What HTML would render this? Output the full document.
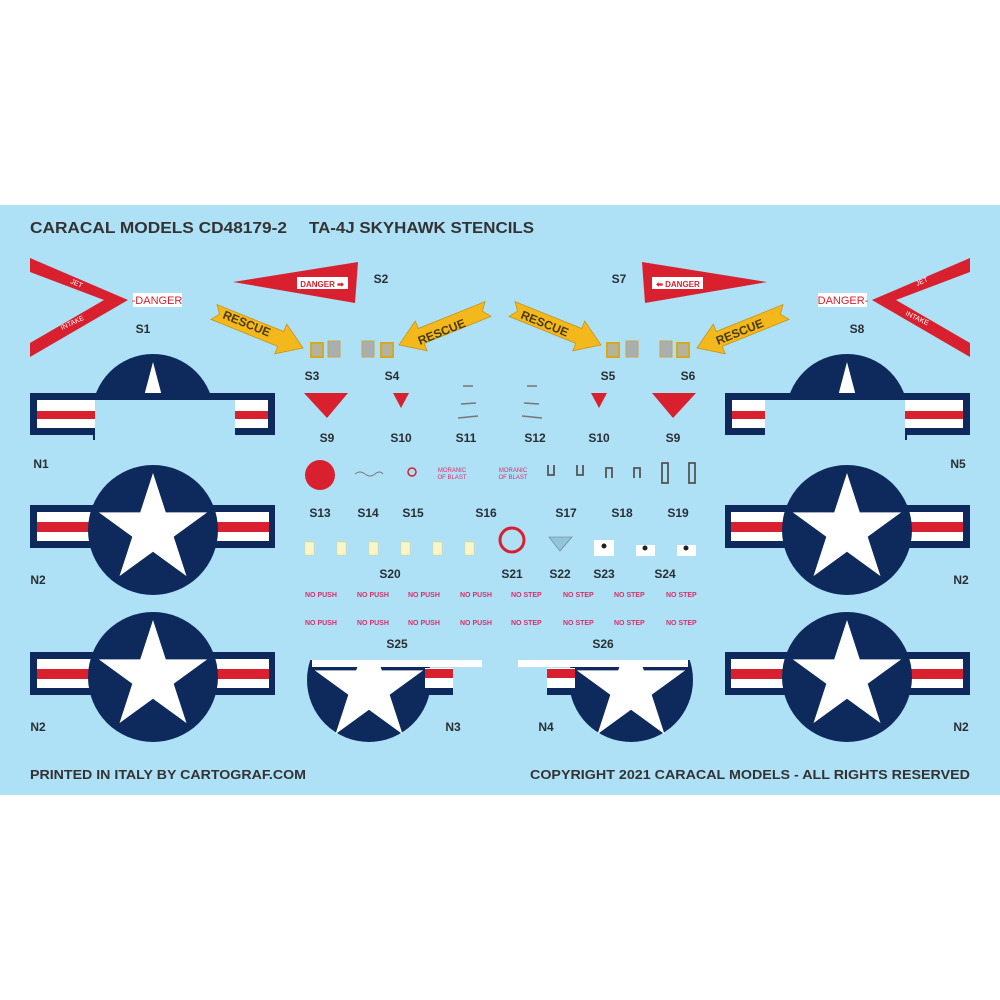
<!DOCTYPE html>
<html><head><meta charset="utf-8"><style>
html,body{margin:0;padding:0;background:#fff}
svg{display:block}
text{font-family:"Liberation Sans",sans-serif}
.lbl{font-weight:bold;font-size:12px;fill:#2a2f33;text-anchor:middle}
.np{font-weight:bold;font-size:7px;fill:#d8306a}
</style></head><body>
<svg width="1000" height="1000" viewBox="0 0 1000 1000" xmlns="http://www.w3.org/2000/svg">
<defs>
<polygon id="star" points="0,-1 0.2245,-0.309 0.951,-0.309 0.363,0.118 0.588,0.809 0,0.382 -0.588,0.809 -0.363,0.118 -0.951,-0.309 -0.2245,-0.309"/>
<polygon id="arrow" points="0,-8 72,-8 72,-16 96,0 72,16 72,8 0,8 6,0" fill="#f2b81c" stroke="#c9941a" stroke-width="0.8"/>
<g id="full">
 <rect x="-123" y="-25" width="245" height="43" fill="#0e2a5c"/>
 <rect x="-116" y="-18" width="232" height="29" fill="#fff"/>
 <rect x="-116" y="-8" width="232" height="10" fill="#d9202e"/>
 <circle r="65" fill="#0e2a5c"/>
 <use href="#star" transform="scale(57)" fill="#fff"/>
</g>
<clipPath id="c3"><rect x="300" y="660" width="200" height="100"/></clipPath>
<clipPath id="c1"><rect x="0" y="340" width="300" height="60"/></clipPath>
<g id="left">
 <polygon points="30,258 128,300 30,357 30,343 104,300 30,272" fill="#d9202e"/>
 <polygon points="233,282 358,262 355,303" fill="#d9202e"/>
 <rect x="297" y="277" width="51" height="12" fill="#fff"/>
 <use href="#arrow" transform="translate(214,312) rotate(22)"/>
 <use href="#arrow" transform="translate(488,309) scale(-1,1) rotate(22)"/>
 <rect x="311" y="343" width="12" height="14" fill="#b7b29a" stroke="#d7a91f" stroke-width="2"/>
 <rect x="328" y="341" width="12" height="16" fill="#a9aeb0" stroke="#c9a54a" stroke-width="1"/>
 <rect x="362" y="341" width="12" height="16" fill="#a9aeb0" stroke="#c9a54a" stroke-width="1"/>
 <rect x="381" y="343" width="12" height="14" fill="#b7b29a" stroke="#d7a91f" stroke-width="2"/>
 <polygon points="304,393 348,393 327,418" fill="#d9202e"/>
 <polygon points="393,393 409,393 401,408" fill="#d9202e"/>
 <g stroke="#777" stroke-width="1.5"><line x1="463" y1="386" x2="473" y2="386"/><line x1="461" y1="404" x2="476" y2="403"/><line x1="458" y1="418" x2="478" y2="416"/></g>
 <g clip-path="url(#c1)"><circle cx="153" cy="415" r="61" fill="#0e2a5c"/></g>
 <polygon points="153,362 143,400 163,400" fill="#fff"/>
 <path d="M30,393 H275 V435 H235 V400 H95 V440 H93 V435 H30 Z" fill="#0e2a5c"/>
 <rect x="37" y="400" width="58" height="28" fill="#fff"/><rect x="37" y="411" width="58" height="8" fill="#d9202e"/>
 <rect x="235" y="400" width="33" height="28" fill="#fff"/><rect x="235" y="411" width="33" height="8" fill="#d9202e"/>
 <use href="#full" transform="translate(153,530)"/>
 <use href="#full" transform="translate(153,677)"/>
 <g clip-path="url(#c3)">
  <circle cx="369" cy="680" r="62" fill="#0e2a5c"/>
  <use href="#star" transform="translate(369,688) scale(57)" fill="#fff"/>
 </g>
 <rect x="425" y="668" width="28" height="27" fill="#0e2a5c"/>
 <rect x="425" y="668" width="28" height="20" fill="#fff"/>
 <rect x="425" y="669" width="28" height="9" fill="#d9202e"/>
 <rect x="312" y="660" width="170" height="7" fill="#fff"/>
</g>
</defs>
<rect x="0" y="205" width="1000" height="590" fill="#aee0f6"/>
<use href="#left"/>
<use href="#left" transform="translate(1000,0) scale(-1,1)"/>

<text x="30" y="233" font-size="16" font-weight="bold" fill="#333" textLength="257" lengthAdjust="spacingAndGlyphs">CARACAL MODELS CD48179-2</text>
<text x="309" y="233" font-size="16" font-weight="bold" fill="#333" textLength="225" lengthAdjust="spacingAndGlyphs">TA-4J SKYHAWK STENCILS</text>
<text x="30" y="779" font-size="13" font-weight="bold" fill="#333" textLength="276" lengthAdjust="spacingAndGlyphs">PRINTED IN ITALY BY CARTOGRAF.COM</text>
<text x="530" y="779" font-size="13" font-weight="bold" fill="#333" textLength="440" lengthAdjust="spacingAndGlyphs">COPYRIGHT 2021 CARACAL MODELS - ALL RIGHTS RESERVED</text>

<rect x="133" y="293" width="49" height="14" fill="#fff"/>
<text x="157" y="304" font-size="11" fill="#d9202e" text-anchor="middle">-DANGER</text>
<rect x="818" y="293" width="49" height="14" fill="#fff"/>
<text x="843" y="304" font-size="11" fill="#d9202e" text-anchor="middle">DANGER-</text>
<text x="322" y="287" font-size="8" font-weight="bold" fill="#d9202e" text-anchor="middle">DANGER ➡</text>
<text x="678" y="287" font-size="8" font-weight="bold" fill="#d9202e" text-anchor="middle">⬅ DANGER</text>
<text x="70" y="283" font-size="7" fill="#fff" transform="rotate(23 70 283)">JET</text>
<text x="62" y="330" font-size="7" fill="#fff" transform="rotate(-25 62 330)">INTAKE</text>
<text x="917" y="286" font-size="7" fill="#fff" transform="rotate(-23 917 286)">JET</text>
<text x="905" y="315" font-size="7" fill="#fff" transform="rotate(25 905 315)">INTAKE</text>

<text x="222" y="318" font-size="12" font-weight="bold" fill="#4a3a10" transform="rotate(22 222 318)">RESCUE</text>
<text x="420" y="345" font-size="12" font-weight="bold" fill="#4a3a10" transform="rotate(-22 420 345)">RESCUE</text>
<text x="520" y="318" font-size="12" font-weight="bold" fill="#4a3a10" transform="rotate(22 520 318)">RESCUE</text>
<text x="718" y="345" font-size="12" font-weight="bold" fill="#4a3a10" transform="rotate(-22 718 345)">RESCUE</text>

<circle cx="320" cy="475" r="15" fill="#d9202e"/>
<path d="M355,474 q5,-4 10,0 t10,0 t8,0" stroke="#777" fill="none" stroke-width="1"/>
<circle cx="412" cy="472" r="4" fill="none" stroke="#d9202e" stroke-width="1.5"/>
<text x="452" y="472" font-size="6" fill="#d8306a" text-anchor="middle">MORANIC</text>
<text x="452" y="479" font-size="6" fill="#d8306a" text-anchor="middle">OF BLAST</text>
<text x="513" y="472" font-size="6" fill="#d8306a" text-anchor="middle">MORANIC</text>
<text x="513" y="479" font-size="6" fill="#d8306a" text-anchor="middle">OF BLAST</text>
<g fill="none" stroke="#555" stroke-width="1.8">
<path d="M548,465 v10 h6 v-10"/><path d="M577,465 v10 h6 v-10"/>
<path d="M606,478 v-10 h6 v10"/><path d="M634,478 v-10 h6 v10"/>
<rect x="662" y="463" width="6" height="20"/><rect x="689" y="463" width="6" height="20"/>
</g>

<g fill="#fdf4c8" stroke="#e8d680" stroke-width="0.5">
<rect x="305" y="542" width="9" height="13"/><rect x="337" y="542" width="9" height="13"/><rect x="369" y="542" width="9" height="13"/>
<rect x="401" y="542" width="9" height="13"/><rect x="433" y="542" width="9" height="13"/><rect x="465" y="542" width="9" height="13"/>
</g>
<circle cx="512" cy="540" r="12" fill="none" stroke="#d9202e" stroke-width="3"/>
<polygon points="549,537 572,537 560,551" fill="#8fc6dc" stroke="#777" stroke-width="0.6"/>
<rect x="594" y="540" width="20" height="16" fill="#fff"/><circle cx="604" cy="546" r="2.5" fill="#222"/>
<rect x="636" y="545" width="19" height="11" fill="#fff"/><circle cx="645" cy="548" r="2.5" fill="#222"/>
<rect x="677" y="545" width="19" height="11" fill="#fff"/><circle cx="686" cy="548" r="2.5" fill="#222"/>

<g class="np">
<text x="305" y="597">NO PUSH</text><text x="357" y="597">NO PUSH</text><text x="408" y="597">NO PUSH</text><text x="460" y="597">NO PUSH</text>
<text x="511" y="597">NO STEP</text><text x="563" y="597">NO STEP</text><text x="614" y="597">NO STEP</text><text x="666" y="597">NO STEP</text>
<text x="305" y="625">NO PUSH</text><text x="357" y="625">NO PUSH</text><text x="408" y="625">NO PUSH</text><text x="460" y="625">NO PUSH</text>
<text x="511" y="625">NO STEP</text><text x="563" y="625">NO STEP</text><text x="614" y="625">NO STEP</text><text x="666" y="625">NO STEP</text>
</g>

<g class="lbl">
<text x="143" y="333">S1</text><text x="381" y="283">S2</text><text x="619" y="283">S7</text><text x="857" y="333">S8</text>
<text x="312" y="380">S3</text><text x="392" y="380">S4</text><text x="608" y="380">S5</text><text x="688" y="380">S6</text>
<text x="327" y="442">S9</text><text x="401" y="442">S10</text><text x="466" y="442">S11</text><text x="535" y="442">S12</text><text x="599" y="442">S10</text><text x="673" y="442">S9</text>
<text x="320" y="517">S13</text><text x="368" y="517">S14</text><text x="413" y="517">S15</text><text x="486" y="517">S16</text><text x="566" y="517">S17</text><text x="622" y="517">S18</text><text x="678" y="517">S19</text>
<text x="390" y="578">S20</text><text x="512" y="578">S21</text><text x="560" y="578">S22</text><text x="604" y="578">S23</text><text x="665" y="578">S24</text>
<text x="397" y="648">S25</text><text x="603" y="648">S26</text>
<text x="41" y="468">N1</text><text x="38" y="584">N2</text><text x="38" y="731">N2</text><text x="453" y="731">N3</text>
<text x="546" y="731">N4</text><text x="958" y="468">N5</text><text x="961" y="584">N2</text><text x="961" y="731">N2</text>
</g>
</svg>
</body></html>
